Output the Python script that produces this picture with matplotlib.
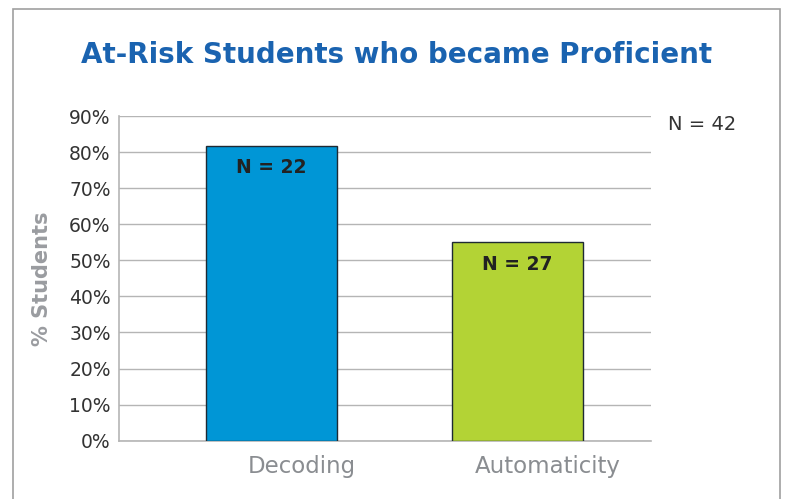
import matplotlib
matplotlib.use("Agg")
import matplotlib.pyplot as plt
from matplotlib.patches import Rectangle
from matplotlib.transforms import ScaledTranslation

categories = ["Decoding", "Automaticity"]
values = [81.8, 55.0]
bar_labels = ["N = 22", "N = 27"]
colors = ["#0096d6", "#b3d335"]
yticks = list(range(0, 91, 10))
total_label = "N = 42"
title = "At-Risk Students who became Proficient"

plt.rcParams['font.family'] = ['DejaVu Sans']

W, H = 788, 499
fig = plt.figure(figsize=(W/100, H/100), dpi=100)
fig.patch.set_facecolor("white")

# outer frame
fig.patches.append(Rectangle((13/W, -0.1), (780-13)/W, 1.1 - 9/H, transform=fig.transFigure,
                             fill=False, edgecolor="#a0a0a0", linewidth=1.2))

left, right, top, bottom = 119, 651, 116, 440.7
ax = fig.add_axes([left/W, 1-bottom/H, (right-left)/W, (bottom-top)/H])
x = list(range(len(categories)))
ax.bar(x, values, width=0.53, color=colors, edgecolor="#1e2a33", linewidth=1.0, zorder=3)
ax.set_xlim(-0.62, 1.543)
ax.set_ylim(0, 90)
ax.set_yticks(yticks)
ax.set_yticklabels([f"{t}%" for t in yticks], fontsize=13.5, color="#333333")
ax.yaxis.grid(True, color="#b5b5b5", linewidth=1.0, zorder=0)
ax.set_axisbelow(True)
ax.tick_params(axis='y', length=0, pad=6)
ax.set_xticks(x)
ax.set_xticklabels(categories, fontsize=16.5, color="#8a8d91")
ax.tick_params(axis='x', length=0, pad=10)
offset = ScaledTranslation(30/100, 0, fig.dpi_scale_trans)
for lab in ax.get_xticklabels():
    lab.set_transform(lab.get_transform() + offset)
for s in ["top", "right"]:
    ax.spines[s].set_visible(False)
for s in ["left", "bottom"]:
    ax.spines[s].set_color("#b5b5b5")
    ax.spines[s].set_linewidth(1.2)
ax.set_ylabel("% Students", fontsize=15, color="#9a9ca0", fontweight="bold", labelpad=12)

for xi, v, lab in zip(x, values, bar_labels):
    ax.annotate(lab, (xi, v), xytext=(0, -16), textcoords="offset points",
                ha="center", va="center", fontsize=13.5, fontweight="bold", color="#222222", zorder=4)

fig.text(668/W, 1-125/H, total_label, fontsize=14, color="#333333", ha="left", va="center")
fig.text(397/W, 1-55/H, title, fontsize=20, fontweight="bold", color="#1a63b0", ha="center", va="center")

fig.savefig("out.png", dpi=100, facecolor="white")
